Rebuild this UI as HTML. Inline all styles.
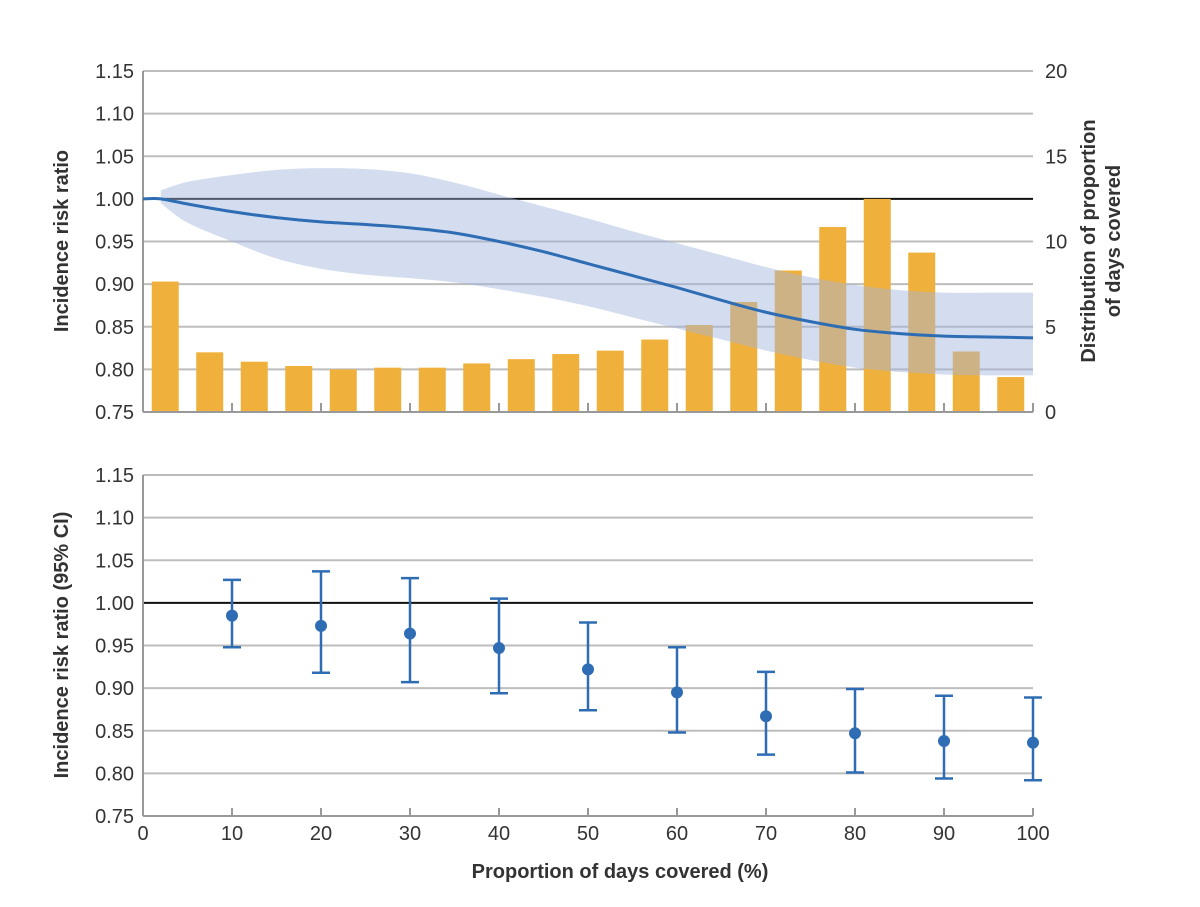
<!DOCTYPE html>
<html><head><meta charset="utf-8"><style>
body{margin:0;background:#fff}
svg text{font-family:"Liberation Sans","DejaVu Sans",sans-serif;fill:#333}
</style></head><body>
<svg id="c" width="1200" height="902" xmlns="http://www.w3.org/2000/svg"></svg>
<script>
const yTicks=[0.75,0.80,0.85,0.90,0.95,1.00,1.05,1.10,1.15];
const rTicks=[0,5,10,15,20];
const xTicks=[0,10,20,30,40,50,60,70,80,90,100];
const barX=[2.5,7.5,12.5,17.5,22.5,27.5,32.5,37.5,42.5,47.5,52.5,57.5,62.5,67.5,72.5,77.5,82.5,87.5,92.5,97.5];
const barVals=[7.65,3.5,2.95,2.7,2.5,2.6,2.6,2.85,3.1,3.4,3.6,4.25,5.1,6.45,8.3,10.85,12.5,9.35,3.55,2.05];
const curveX=[0,2,5,10,15,20,25,30,35,40,45,50,55,60,65,70,75,80,85,90,95,100];
const curveY=[1.0,1.0,0.994,0.985,0.978,0.973,0.970,0.966,0.960,0.950,0.938,0.924,0.910,0.896,0.881,0.867,0.856,0.847,0.842,0.839,0.838,0.837];
const bandX=[2,5,10,15,20,25,30,35,40,45,50,55,60,65,70,75,80,85,90,95,100];
const bandHi=[1.01,1.02,1.028,1.034,1.036,1.035,1.030,1.019,1.005,0.991,0.977,0.962,0.948,0.934,0.920,0.908,0.899,0.893,0.890,0.890,0.890];
const bandLo=[0.995,0.972,0.950,0.930,0.918,0.911,0.907,0.902,0.894,0.885,0.874,0.861,0.848,0.835,0.822,0.811,0.802,0.797,0.794,0.793,0.793];
const ptX=[10,20,30,40,50,60,70,80,90,100];
const ptY=[0.985,0.973,0.964,0.947,0.922,0.895,0.867,0.847,0.838,0.836];
const ptLo=[0.948,0.918,0.907,0.894,0.874,0.848,0.822,0.801,0.794,0.792];
const ptHi=[1.027,1.037,1.029,1.005,0.977,0.948,0.919,0.899,0.891,0.889];

const NS='http://www.w3.org/2000/svg',svg=document.getElementById('c');
function el(t,a,p){const e=document.createElementNS(NS,t);for(const k in a)e.setAttribute(k,a[k]);(p||svg).appendChild(e);return e;}
const X=v=>143+v*8.9;
const Yt=v=>412-(v-0.75)/0.4*341;
const Yb=v=>816-(v-0.75)/0.4*341;
const Yr=v=>412-v/20*341;
function smooth(pts){
  let d='';
  for(let i=0;i<pts.length-1;i++){
    const p0=pts[Math.max(0,i-1)],p1=pts[i],p2=pts[i+1],p3=pts[Math.min(pts.length-1,i+2)];
    const c1=[p1[0]+(p2[0]-p0[0])/6,p1[1]+(p2[1]-p0[1])/6],c2=[p2[0]-(p3[0]-p1[0])/6,p2[1]-(p3[1]-p1[1])/6];
    d+=` C${c1[0]},${c1[1]} ${c2[0]},${c2[1]} ${p2[0]},${p2[1]}`;
  }
  return d;
}
function grid(Y,name){
  yTicks.forEach(t=>{
    const one=Math.abs(t-1)<1e-9;
    const g=el('line',{x1:143,x2:1033,y1:Y(t),y2:Y(t),stroke:one?'#111':'#bdbdbd','stroke-width':2});
    
    
    const l=el('text',{x:134,y:Y(t)+7,'text-anchor':'end','font-size':20});
    l.textContent=t.toFixed(2);
    
    
  });
  const a=el('line',{x1:143,x2:143,y1:Y(1.15),y2:Y(0.75),stroke:'#999','stroke-width':2});
  
  
}
grid(Yt,'top');grid(Yb,'bottom');
rTicks.forEach(t=>{
  const l=el('text',{x:1045,y:Yr(t)+7,'font-size':20});
  l.textContent=t;
  
  
});
barX.forEach((v,i)=>{
  const b=el('rect',{x:X(v)-13.5,y:Yr(barVals[i]),width:27,height:Yr(0)-Yr(barVals[i]),fill:'#f0b13c'});
  
  
});
const hiPts=bandX.map((x,i)=>[X(x),Yt(bandHi[i])]);
const loPts=bandX.map((x,i)=>[X(x),Yt(bandLo[i])]).reverse();
const d='M'+hiPts[0].join(',')+smooth(hiPts)+' L'+loPts[0].join(',')+smooth(loPts)+'Z';
const band=el('path',{d:d,fill:'#9fb3dc','fill-opacity':0.45});


const cPts=curveX.map((x,i)=>[X(x),Yt(curveY[i])]);
const cv=el('path',{d:'M'+cPts[0].join(',')+smooth(cPts),fill:'none',stroke:'#2e6db4','stroke-width':3});


const ta=el('line',{x1:143,x2:1033,y1:412,y2:412,stroke:'#999','stroke-width':2});


xTicks.forEach(t=>{
  const k=el('line',{x1:X(t),x2:X(t),y1:412,y2:403,stroke:'#999','stroke-width':2});
  
  
});
const ba=el('line',{x1:143,x2:1033,y1:816,y2:816,stroke:'#999','stroke-width':2});


xTicks.forEach(t=>{
  const k=el('line',{x1:X(t),x2:X(t),y1:816,y2:808,stroke:'#999','stroke-width':2});
  
  
  const l=el('text',{x:X(t),y:840,'text-anchor':'middle','font-size':20});
  l.textContent=t;
  
  
});
ptX.forEach((x,i)=>{
  const g=el('g',{stroke:'#2e6db4','stroke-width':2.5});
  
  
  el('line',{x1:X(x),x2:X(x),y1:Yb(ptLo[i]),y2:Yb(ptHi[i])},g);
  el('line',{x1:X(x)-9,x2:X(x)+9,y1:Yb(ptLo[i]),y2:Yb(ptLo[i])},g);
  el('line',{x1:X(x)-9,x2:X(x)+9,y1:Yb(ptHi[i]),y2:Yb(ptHi[i])},g);
  el('circle',{cx:X(x),cy:Yb(ptY[i]),r:6,fill:'#2e6db4',stroke:'none'},g);
});
function title(txt,x,y,rot,name){
  const t=el('text',{x:x,y:y,'text-anchor':'middle','font-size':20,'font-weight':'bold',transform:rot?`rotate(${rot} ${x} ${y})`:''});
  t.textContent=txt;
  
  
}
title('Incidence risk ratio',68,241,-90,'top-y-axis-title');
title('Incidence risk ratio (95% CI)',68,645,-90,'bottom-y-axis-title');
title('Distribution of proportion',1095,241,-90,'right-axis-title-1');
title('of days covered',1120,241,-90,'right-axis-title-2');
title('Proportion of days covered (%)',620,878,0,'x-axis-title');
</script>
</body></html>
